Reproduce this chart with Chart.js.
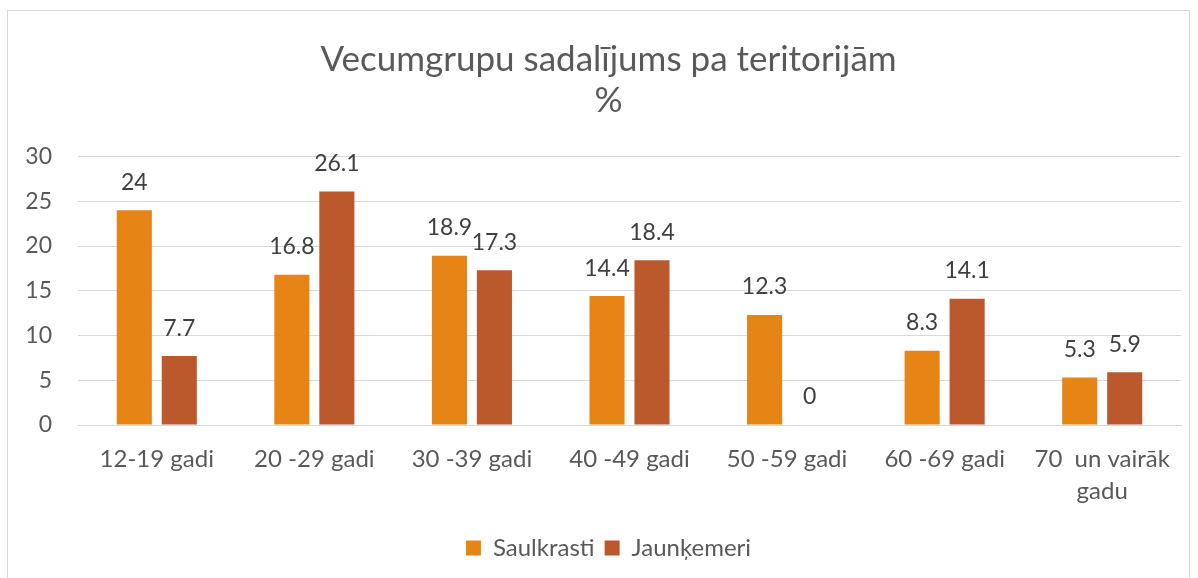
<!DOCTYPE html>
<html>
<head>
    <meta charset="UTF-8">
    <title>Vecumgrupu sadalījums pa teritorijām</title>
    <script src="https://cdn.jsdelivr.net/npm/chart.js@4.4.1/dist/chart.umd.min.js"></script>
    <style>
        body { margin: 0; background: #fff; }
        #wrap { width: 1198px; height: 578px; }
    </style>
</head>
<body>
<div id="wrap">
    <canvas id="ageChart" width="1198" height="578"></canvas>
</div>

<script>
    // Chart data
    var ageGroups = ['12-19 gadi', '20 -29 gadi', '30 -39 gadi', '40 -49 gadi', '50 -59 gadi', '60 -69 gadi', ['70  un vairāk', 'gadu']];
    var saulkrasti = [24, 16.8, 18.9, 14.4, 12.3, 8.3, 5.3];
    var jaunkemeri = [7.7, 26.1, 17.3, 18.4, 0, 14.1, 5.9];
    var yTicks = [0, 5, 10, 15, 20, 25, 30];

    var fontFamily = 'Lato, "Open Sans", sans-serif';

    // Light frame around the whole chart
    var framePlugin = {
        id: 'frame',
        beforeDraw: function(chart) {
            var ctx = chart.ctx;
            ctx.save();
            ctx.strokeStyle = '#d9d9d9';
            ctx.lineWidth = 1;
            ctx.strokeRect(7.5, 10.5, 1182, 620);
            ctx.restore();
        }
    };

    // nudge title and legend a bit to the right, like the original
    var shiftBoxes = {
        id: 'shiftBoxes',
        afterLayout: function(chart) {
            [chart.titleBlock, chart.legend].forEach(function(box) {
                if (box) { box.left += 18; box.right += 18; }
            });
        }
    };

    // Value labels above bars
    var valueLabels = {
        id: 'valueLabels',
        afterDatasetsDraw: function(chart) {
            var ctx = chart.ctx;
            ctx.save();
            ctx.font = '23px ' + fontFamily;
            ctx.fillStyle = '#404040';
            ctx.textAlign = 'center';
            ctx.textBaseline = 'middle';
            chart.data.datasets.forEach(function(ds, i) {
                chart.getDatasetMeta(i).data.forEach(function(bar, j) {
                    ctx.fillText(String(ds.data[j]), bar.x, bar.y - 28);
                });
            });
            ctx.restore();
        }
    };

    var ctx = document.getElementById('ageChart').getContext('2d');
    var ageChart = new Chart(ctx, {
        type: 'bar',
        data: {
            labels: ageGroups,
            datasets: [{
                label: 'Saulkrasti',
                data: saulkrasti,
                backgroundColor: '#e68415',
                categoryPercentage: 0.571,
                barPercentage: 0.78
            }, {
                label: 'Jaunķemeri',
                data: jaunkemeri,
                backgroundColor: '#bc592c',
                categoryPercentage: 0.571,
                barPercentage: 0.78
            }]
        },
        options: {
            responsive: false,
            animation: false,
            layout: { padding: { left: 0, right: 17, top: 0, bottom: 8 } },
            plugins: {
                title: {
                    display: true,
                    text: ['Vecumgrupu sadalījums pa teritorijām', '%'],
                    color: '#595959',
                    font: { family: fontFamily, size: 35, weight: 'normal', lineHeight: 1.15 },
                    padding: { top: 40, bottom: 36 }
                },
                legend: {
                    position: 'bottom',
                    labels: {
                        color: '#595959',
                        font: { family: fontFamily, size: 24 },
                        boxWidth: 15,
                        boxHeight: 15,
                        padding: 10
                    }
                },
                tooltip: { enabled: false }
            },
            scales: {
                x: {
                    grid: { display: false },
                    border: { color: '#d9d9d9', width: 1 },
                    ticks: {
                        color: '#595959',
                        font: { family: fontFamily, size: 24, lineHeight: 1.35 },
                        padding: 10,
                        maxRotation: 0,
                        autoSkip: false
                    },
                    afterFit: function(scale) { scale.height = 101; }
                },
                y: {
                    min: 0,
                    max: 30,
                    afterBuildTicks: function(scale) {
                        scale.ticks = yTicks.map(function(v) { return { value: v }; });
                    },
                    grid: { color: '#d9d9d9', drawTicks: false },
                    border: { display: false },
                    ticks: {
                        color: '#595959',
                        font: { family: fontFamily, size: 23 },
                        padding: 26
                    },
                    afterFit: function(scale) { scale.width = 78; }
                }
            }
        },
        plugins: [framePlugin, shiftBoxes, valueLabels]
    });
</script>
</body>
</html>
